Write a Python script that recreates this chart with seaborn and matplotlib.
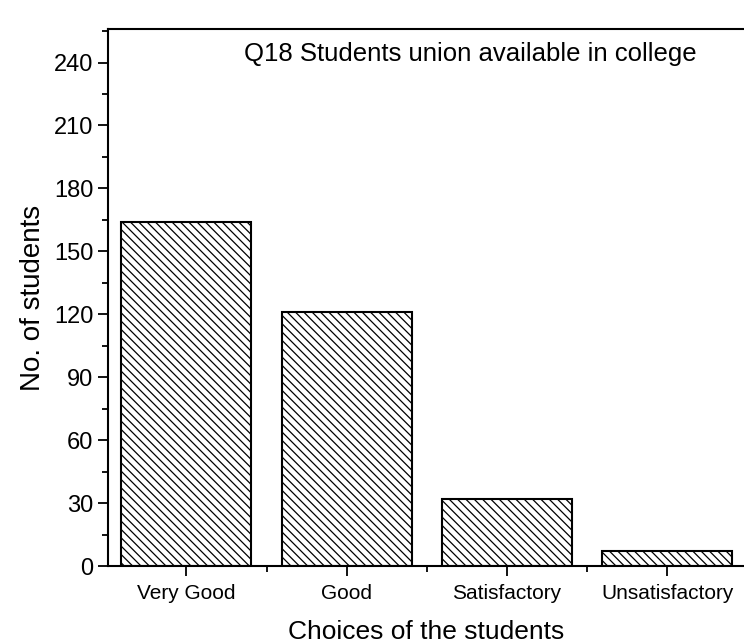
import pandas as pd
import seaborn as sns
import matplotlib.pyplot as plt
from matplotlib.ticker import MultipleLocator

# data
choices = ["Very Good", "Good", "Satisfactory", "Unsatisfactory"]
students = [164, 121, 32, 7]

df = pd.DataFrame({"choice": choices, "students": students})

sns.set_style("ticks")
plt.rcParams["font.family"] = ["Liberation Sans", "DejaVu Sans"]
plt.rcParams["hatch.linewidth"] = 0.9
plt.rcParams["text.color"] = "black"
plt.rcParams["axes.labelcolor"] = "black"
plt.rcParams["xtick.color"] = "black"
plt.rcParams["ytick.color"] = "black"

fig = plt.figure(figsize=(7.44, 6.44), dpi=100)
ax = fig.add_axes([0.145, 0.121, 0.855, 0.834])

sns.barplot(data=df, x="choice", y="students", color="white",
            edgecolor="black", linewidth=1.5, width=0.81, ax=ax)
for bar in ax.patches:
    bar.set_hatch("\\\\\\\\")

ax.set_xlim(-0.49, 3.48)
ax.set_ylim(0, 256)
ax.yaxis.set_major_locator(MultipleLocator(30))
ax.yaxis.set_minor_locator(MultipleLocator(15))
ax.xaxis.set_minor_locator(MultipleLocator(0.5))
ax.tick_params(which="major", length=7, width=1.3, labelsize=17, direction="out")
ax.tick_params(which="minor", length=4, width=1.3, direction="out")
ax.tick_params(axis="x", labelsize=15, pad=6)
for side in ["left", "bottom", "top"]:
    ax.spines[side].set_linewidth(1.5)
    ax.spines[side].set_color("black")
ax.spines["right"].set_visible(False)

ax.set_xlabel("Choices of the students", fontsize=19, labelpad=12)
ax.set_ylabel("No. of students", fontsize=20, labelpad=6)
ax.text(0.57, 0.975, "Q18 Students union available in college",
        transform=ax.transAxes, ha="center", va="top", fontsize=18.5)

plt.savefig("out.png", dpi=100)
